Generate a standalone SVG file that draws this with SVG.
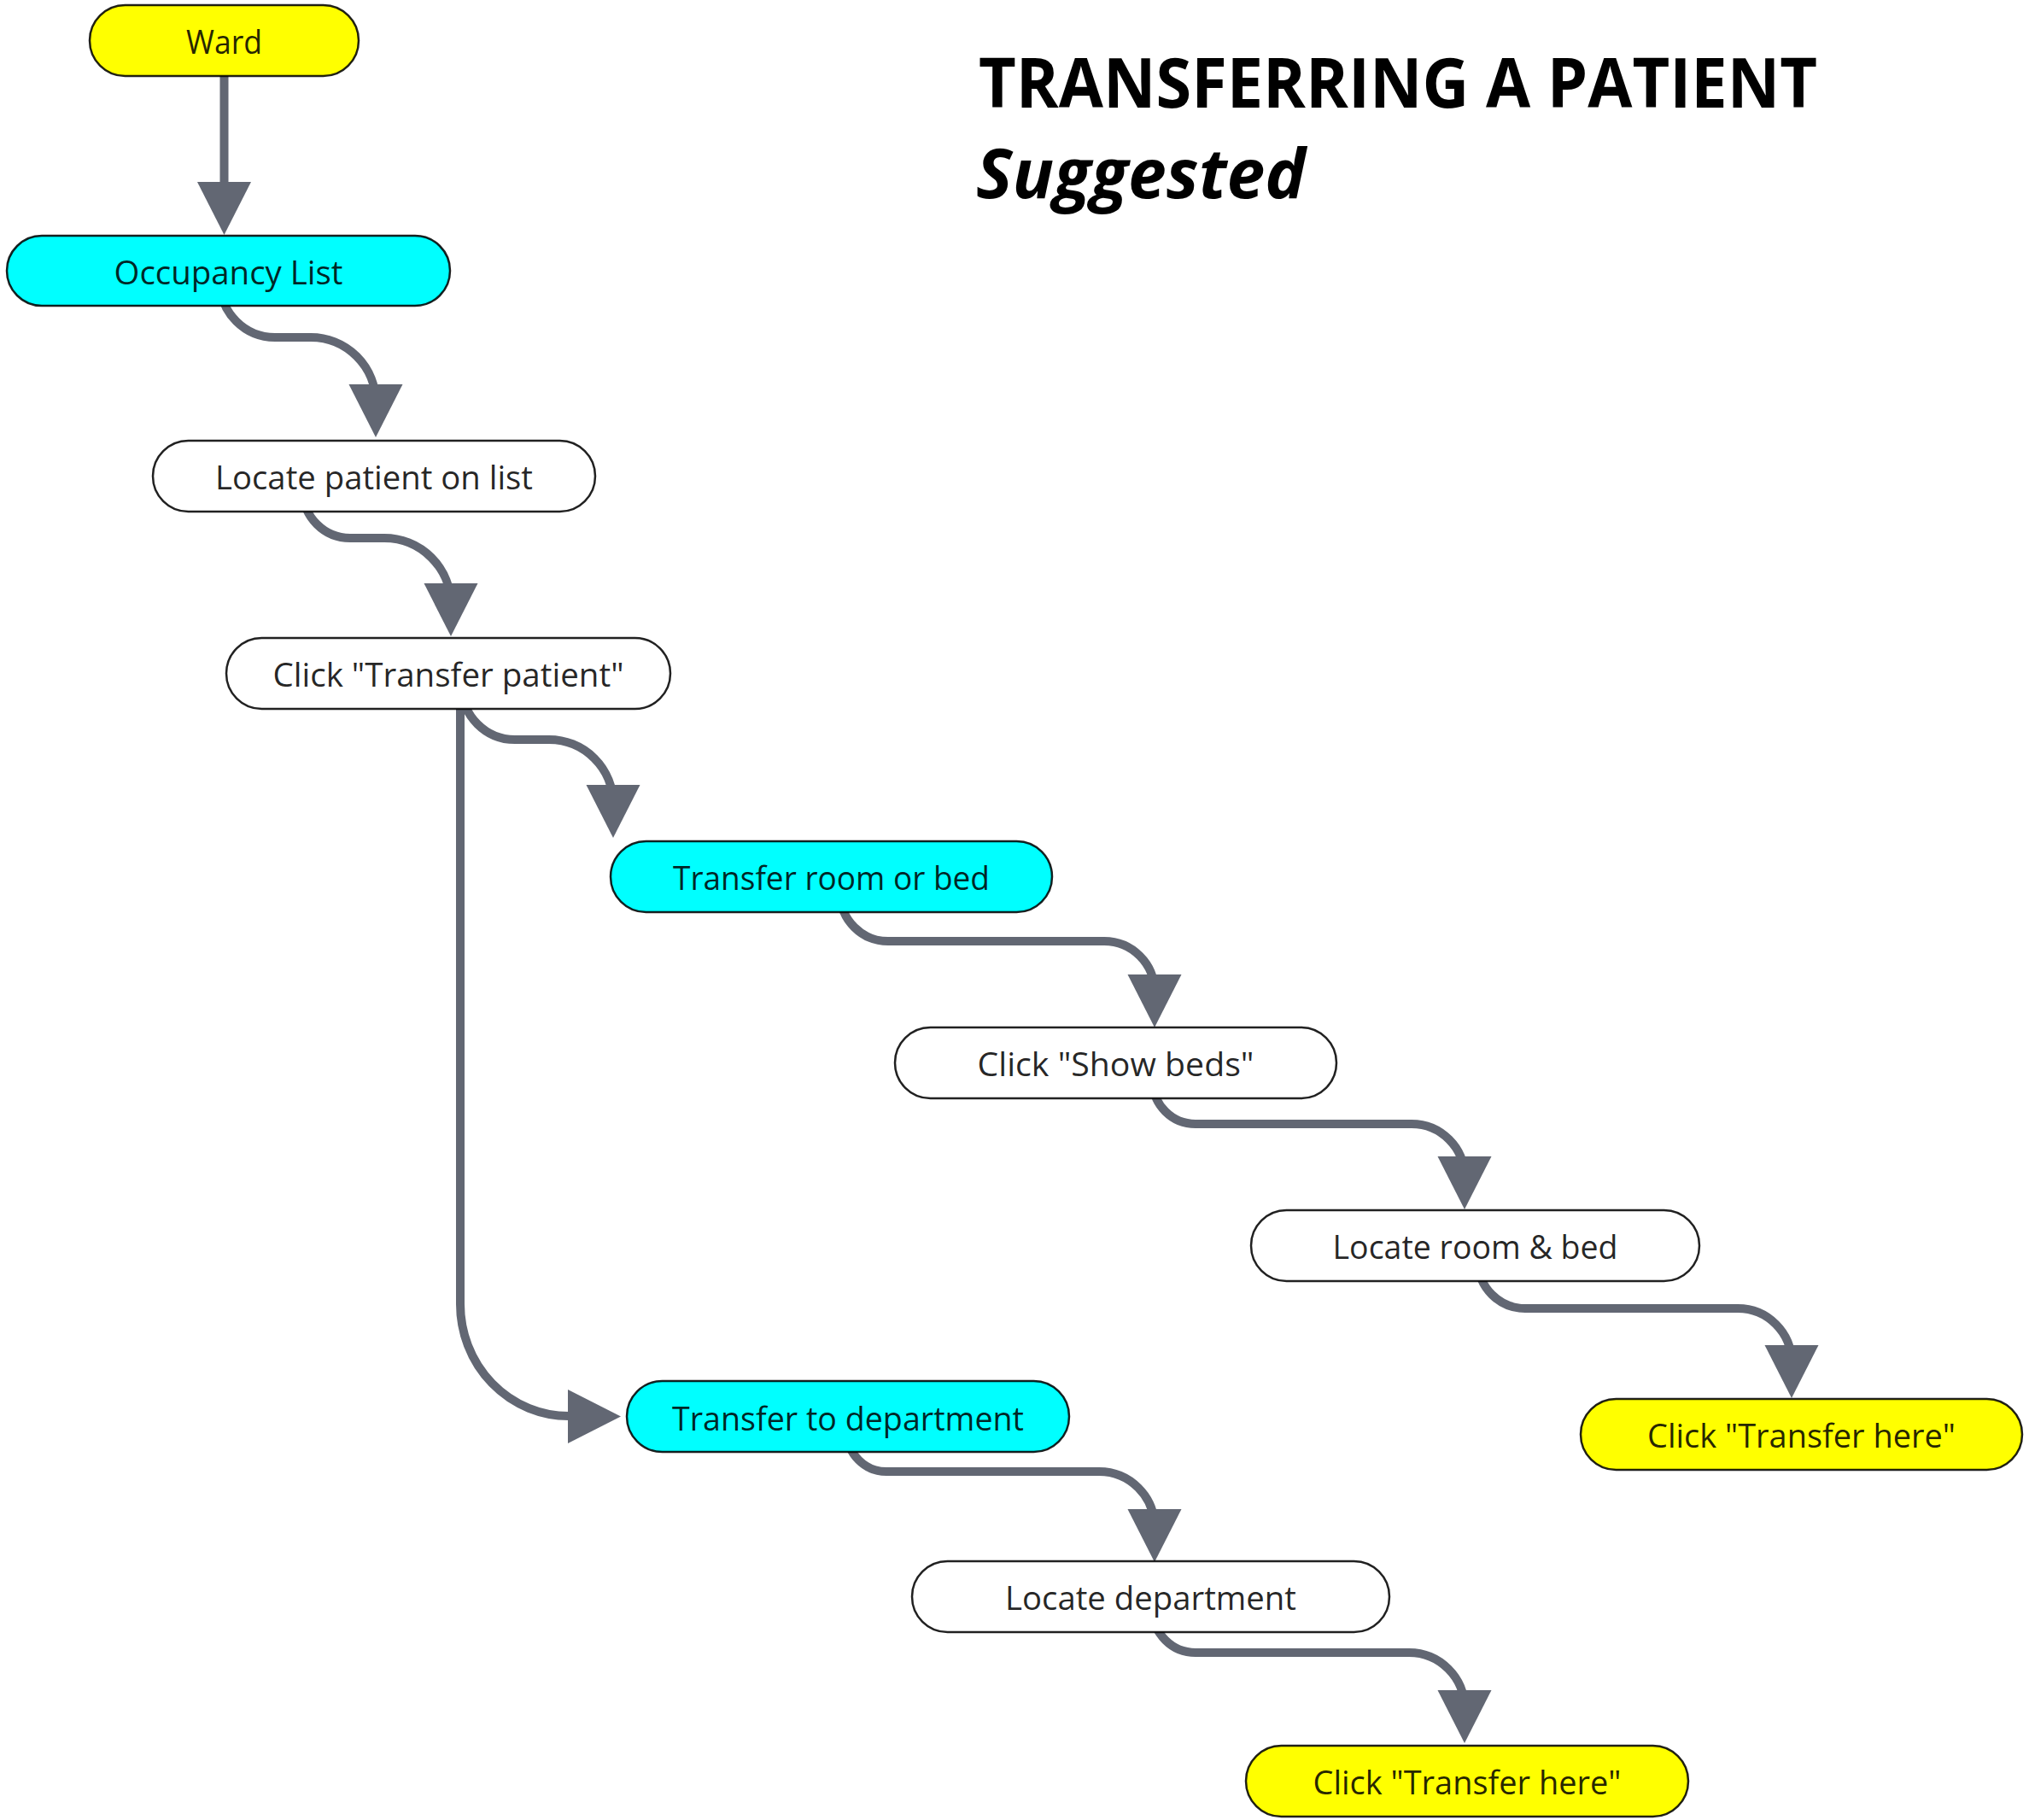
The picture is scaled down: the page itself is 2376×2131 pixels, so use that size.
<svg xmlns="http://www.w3.org/2000/svg" xmlns:xlink="http://www.w3.org/1999/xlink" width="2376" height="2131" viewBox="0 0 2376 2131">
<style>
.bg{fill:#ffffff}
.edge{fill:none;stroke:#626773;stroke-width:10;stroke-linecap:butt}
.arrow{fill:#626773}
.node rect{stroke:#000;stroke-opacity:0.87;stroke-width:2.5}
.yellow rect{fill:#ffff00}
.cyan rect{fill:#00ffff}
.white rect{fill:#ffffff}
.node text{font-family:"Open Sans","Noto Sans","Liberation Sans",sans-serif;font-size:39px;fill:#000;fill-opacity:0.87;text-anchor:middle}
.title{font-family:"Open Sans","Noto Sans","Liberation Sans",sans-serif;font-size:80px;font-weight:700;fill:#000}
</style>
<defs>
<polygon id="ahd" class="arrow" points="-31.5,0 31.5,0 0,62"/>
<polygon id="ahr" class="arrow" points="0,-31.5 0,31.5 62,0"/>
</defs>
<rect class="bg" x="0" y="0" width="2376" height="2131"/>

<g id="title">
<text class="title" x="1146" y="126" textLength="982" lengthAdjust="spacingAndGlyphs">TRANSFERRING A PATIENT</text>
<text class="title" x="1143" y="232" font-style="italic" textLength="386" lengthAdjust="spacingAndGlyphs">Suggested</text>
</g>

<g id="connectors">
<g id="e-ward-occ"><path class="edge" d="M262.5 89 V214"/><use xlink:href="#ahd" x="262.5" y="213"/></g>
<g id="e-occ-locpat"><path class="edge" d="M258 331 A64 64 0 0 0 322 395 L364 395 A76 76 0 0 1 440 471"/><use xlink:href="#ahd" x="440" y="450"/></g>
<g id="e-locpat-clicktp"><path class="edge" d="M355 575 A55 55 0 0 0 410 630 L450 630 A78 78 0 0 1 528 708"/><use xlink:href="#ahd" x="528" y="683"/></g>
<g id="e-clicktp-troom"><path class="edge" d="M541 804 A62 62 0 0 0 603 866 L643 866 A75 75 0 0 1 718 941"/><use xlink:href="#ahd" x="718" y="919"/></g>
<g id="e-clicktp-tdept"><path class="edge" d="M539 820 V1527 A127 131 0 0 0 666 1658 L668 1658"/><use xlink:href="#ahr" x="665" y="1658.5"/></g>
<g id="e-troom-showbeds"><path class="edge" d="M984 1046 A56 56 0 0 0 1040 1102 L1293 1102 A59 59 0 0 1 1352 1161"/><use xlink:href="#ahd" x="1352" y="1141"/></g>
<g id="e-showbeds-locroom"><path class="edge" d="M1350 1266 A50 50 0 0 0 1400 1316 L1653 1316 A62 62 0 0 1 1715 1378"/><use xlink:href="#ahd" x="1715" y="1354"/></g>
<g id="e-locroom-here1"><path class="edge" d="M1731 1477 A55 55 0 0 0 1786 1532 L2035 1532 A63 63 0 0 1 2098 1595"/><use xlink:href="#ahd" x="2098" y="1575"/></g>
<g id="e-tdept-locdept"><path class="edge" d="M992 1677 A46 46 0 0 0 1038 1723 L1287 1723 A65 65 0 0 1 1352 1788"/><use xlink:href="#ahd" x="1352" y="1767"/></g>
<g id="e-locdept-here2"><path class="edge" d="M1350 1885 A50 50 0 0 0 1400 1935 L1650 1935 A65 65 0 0 1 1715 2000"/><use xlink:href="#ahd" x="1715" y="1979"/></g>
</g>

<g id="n-ward" class="node yellow"><rect x="105" y="6" width="315" height="83" rx="41.5"/><text x="262.5" y="63" textLength="89" lengthAdjust="spacingAndGlyphs">Ward</text></g>
<g id="n-occupancy" class="node cyan"><rect x="8" y="276" width="519" height="82" rx="41"/><text x="267.5" y="333" textLength="268" lengthAdjust="spacingAndGlyphs">Occupancy List</text></g>
<g id="n-locate-patient" class="node white"><rect x="179" y="516" width="518" height="83" rx="41.5"/><text x="438" y="573" textLength="372" lengthAdjust="spacingAndGlyphs">Locate patient on list</text></g>
<g id="n-click-transfer-patient" class="node white"><rect x="265" y="747" width="520" height="83" rx="41.5"/><text x="525" y="804" textLength="411" lengthAdjust="spacingAndGlyphs">Click "Transfer patient"</text></g>
<g id="n-transfer-room" class="node cyan"><rect x="715" y="985" width="517" height="83" rx="41.5"/><text x="973.5" y="1042" textLength="371" lengthAdjust="spacingAndGlyphs">Transfer room or bed</text></g>
<g id="n-show-beds" class="node white"><rect x="1048" y="1203" width="517" height="83" rx="41.5"/><text x="1306.5" y="1260" textLength="324" lengthAdjust="spacingAndGlyphs">Click "Show beds"</text></g>
<g id="n-locate-room" class="node white"><rect x="1465" y="1417" width="525" height="83" rx="41.5"/><text x="1727.5" y="1474" textLength="334" lengthAdjust="spacingAndGlyphs">Locate room &amp; bed</text></g>
<g id="n-transfer-here-1" class="node yellow"><rect x="1851" y="1638" width="517" height="83" rx="41.5"/><text x="2109.5" y="1695" textLength="361" lengthAdjust="spacingAndGlyphs">Click "Transfer here"</text></g>
<g id="n-transfer-dept" class="node cyan"><rect x="734" y="1617" width="518" height="83" rx="41.5"/><text x="993" y="1674.5" textLength="412" lengthAdjust="spacingAndGlyphs">Transfer to department</text></g>
<g id="n-locate-dept" class="node white"><rect x="1068" y="1828" width="559" height="83" rx="41.5"/><text x="1347.5" y="1885" textLength="341" lengthAdjust="spacingAndGlyphs">Locate department</text></g>
<g id="n-transfer-here-2" class="node yellow"><rect x="1459" y="2044" width="518" height="83" rx="41.5"/><text x="1718" y="2101" textLength="361" lengthAdjust="spacingAndGlyphs">Click "Transfer here"</text></g>
</svg>
